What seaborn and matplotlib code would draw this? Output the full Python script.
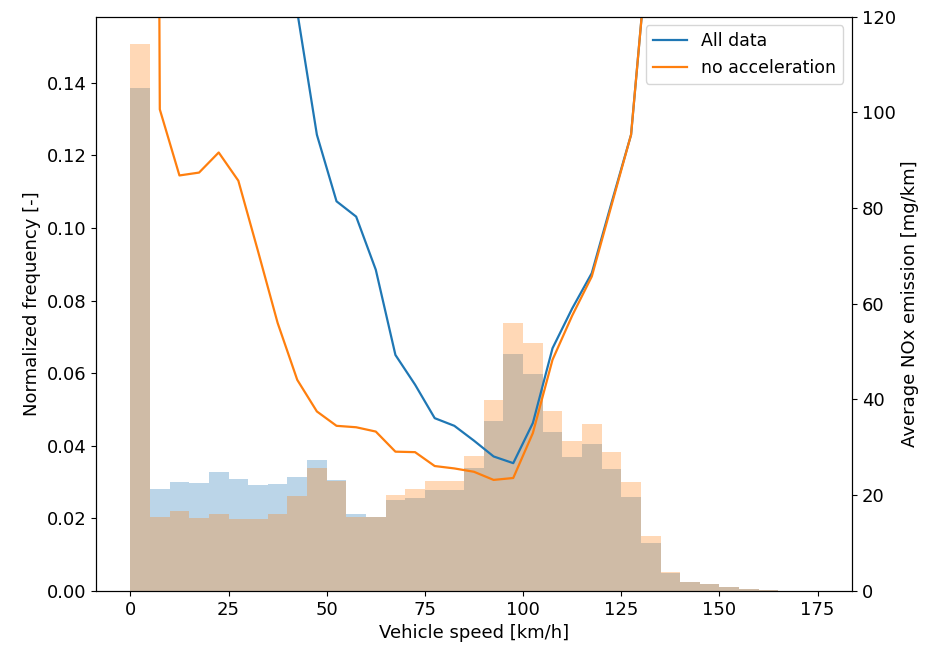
import numpy as np
import pandas as pd
import matplotlib
matplotlib.use("Agg")
import matplotlib.pyplot as plt
import seaborn as sns

# Speed bins (km/h), 5 km/h wide
bin_edges = list(range(0, 180, 5))
bin_centers = [e + 2.5 for e in bin_edges[:-1]]

# Normalized frequency per speed bin
freq_all = [0.1386, 0.0281, 0.0300, 0.0298, 0.0328, 0.0308, 0.0291, 0.0295,
            0.0313, 0.0360, 0.0305, 0.0213, 0.0205, 0.0251, 0.0256, 0.0279,
            0.0279, 0.0338, 0.0469, 0.0653, 0.0598, 0.0439, 0.0370, 0.0404,
            0.0336, 0.0260, 0.0133, 0.0050, 0.0025, 0.0019, 0.0011, 0.0005,
            0.0002, 0.0001, 0.0000]
freq_noacc = [0.1507, 0.0203, 0.0221, 0.0200, 0.0211, 0.0197, 0.0197, 0.0213,
              0.0261, 0.0338, 0.0303, 0.0205, 0.0205, 0.0264, 0.0280, 0.0303,
              0.0303, 0.0372, 0.0526, 0.0739, 0.0683, 0.0497, 0.0413, 0.0460,
              0.0382, 0.0301, 0.0152, 0.0052, 0.0026, 0.0020, 0.0012, 0.0005,
              0.0002, 0.0001, 0.0000]

# Average NOx emission per speed bin (mg/km)
line_speeds = [2.5, 7.5, 12.5, 17.5, 22.5, 27.5, 32.5, 37.5, 42.5, 47.5,
               52.5, 57.5, 62.5, 67.5, 72.5, 77.5, 82.5, 87.5, 92.5, 97.5,
               102.5, 107.5, 112.5, 117.5, 122.5, 127.5, 132.5, 137.5]
nox_all = [600, 420, 330, 270, 220, 185, 160, 140, 121, 95.3,
           81.4, 78.2, 67.1, 49.3, 43.1, 36.1, 34.5, 31.4, 28.1, 26.7,
           35.1, 50.7, 59.0, 66.4, 81.0, 95.3, 141, 190]
nox_noacc = [1000, 100.6, 86.8, 87.4, 91.6, 85.7, 71.0, 56.0, 44.1, 37.5,
             34.5, 34.2, 33.3, 29.1, 29.0, 26.1, 25.6, 24.9, 23.2, 23.6,
             33.0, 48.3, 57.5, 65.7, 80.5, 95.3, 141, 190]

plt.rcParams["font.family"] = ["DejaVu Sans"]
plt.rcParams["font.size"] = 13

fig = plt.figure(figsize=(9.31, 6.48), dpi=100)
ax = fig.add_axes([0.1031, 0.088, 0.812, 0.8865])

sns.histplot(x=bin_centers, weights=freq_all, bins=bin_edges, color="C0",
             alpha=0.3, linewidth=0, ax=ax)
sns.histplot(x=bin_centers, weights=freq_noacc, bins=bin_edges, color="C1",
             alpha=0.3, linewidth=0, ax=ax)
ax.set_xlim(-8.75, 183.75)
ax.set_ylim(0, max(freq_noacc) * 1.05)
ax.set_xlabel("Vehicle speed [km/h]")
ax.set_ylabel("Normalized frequency [-]")

ax2 = ax.twinx()
sns.lineplot(x=line_speeds, y=nox_all, color="C0", linewidth=1.6,
             label="All data", ax=ax2)
sns.lineplot(x=line_speeds, y=nox_noacc, color="C1", linewidth=1.6,
             label="no acceleration", ax=ax2)
ax2.set_ylim(0, 120)
ax2.set_xlim(-8.75, 183.75)
ax2.set_ylabel("Average NOx emission [mg/km]")
ax2.legend(loc="upper right", fontsize=12.5)

fig.savefig("out.png", dpi=100)
